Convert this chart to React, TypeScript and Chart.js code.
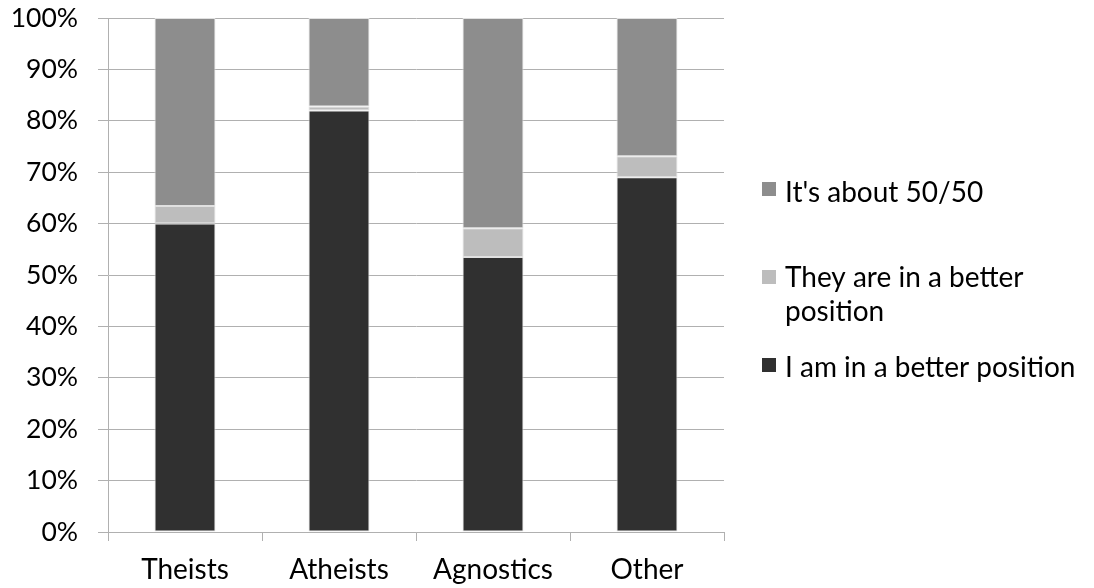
import React, { useEffect, useRef } from "react";
import { Chart, registerables } from "chart.js";

Chart.register(...registerables);

const categories = ["Theists", "Atheists", "Agnostics", "Other"];
const iAmBetter = [60, 82, 53.5, 69];
const theyAreBetter = [3.4, 0.8, 5.6, 4.1];
const aboutFifty = [36.6, 17.2, 40.9, 26.9];
const seriesNames = ["I am in a better position", "They are in a better position", "It's about 50/50"];
const seriesColors = ["#303030", "#bdbdbd", "#8d8d8d"];
const legendLines = [["It's about 50/50"], ["They are in a better", "position"], ["I am in a better position"]];
const legendSeriesIndex = [2, 1, 0];

const FONT = "Lato, 'DejaVu Sans', sans-serif";

const sideLegend = {
  id: "sideLegend",
  afterDraw(chart: any) {
    const ctx = chart.ctx as CanvasRenderingContext2D;
    const area = chart.chartArea;
    const boxX = area.right + 38;
    const textX = area.right + 61;
    const boxTops = [182, 270, 358];
    const baselines = [[202], [287, 321], [377]];
    ctx.save();
    ctx.font = `28px ${FONT}`;
    ctx.textBaseline = "alphabetic";
    ctx.textAlign = "left";
    legendLines.forEach((lines, i) => {
      const ds = chart.data.datasets[legendSeriesIndex[i]];
      ctx.fillStyle = ds.backgroundColor as string;
      ctx.fillRect(boxX, boxTops[i], 14, 14);
      ctx.fillStyle = "#000";
      lines.forEach((ln, j) => ctx.fillText(ln, textX, baselines[i][j]));
    });
    ctx.restore();
  },
};

export default function App() {
  const ref = useRef<HTMLCanvasElement>(null);
  useEffect(() => {
    if (!ref.current) return;
    const gridColor = "#b0b0b0";
    const chart = new Chart(ref.current, {
      type: "bar",
      data: {
        labels: categories,
        datasets: [iAmBetter, theyAreBetter, aboutFifty].map((d, i) => ({
          label: seriesNames[i],
          data: d,
          backgroundColor: seriesColors[i],
          borderColor: "#e0e0e0",
          borderWidth: 1,
          borderSkipped: false,
          barPercentage: 0.396,
          categoryPercentage: 1,
        })),
      },
      options: {
        animation: false,
        responsive: true,
        maintainAspectRatio: false,
        layout: { padding: { top: 18, right: 370, bottom: 0, left: 0 } },
        plugins: { legend: { display: false }, tooltip: { enabled: false } },
        scales: {
          x: {
            stacked: true,
            grid: { drawOnChartArea: false, drawTicks: true, tickLength: 9, color: gridColor, offset: true },
            border: { display: true, color: gridColor },
            ticks: { color: "#000", font: { family: FONT, size: 28 }, padding: 12 },
            afterFit: (s: any) => {
              s.height = 56;
              s.paddingLeft = 0;
              s.paddingRight = 0;
            },
          },
          y: {
            stacked: true,
            min: 0,
            max: 100,
            grid: { color: gridColor, tickLength: 10 },
            border: { display: true, color: gridColor },
            ticks: {
              stepSize: 10,
              color: "#000",
              font: { family: FONT, size: 26.5 },
              padding: 20,
              callback: (v: any) => `${v}%`,
            },
            afterFit: (s: any) => {
              s.width = 108;
              s.paddingTop = 0;
              s.paddingBottom = 0;
            },
          },
        },
      },
      plugins: [sideLegend],
    });
    return () => chart.destroy();
  }, []);
  return (
    <div style={{ position: "absolute", left: 0, top: 0, width: 1094, height: 588, background: "#fff" }}>
      <canvas ref={ref} />
    </div>
  );
}
